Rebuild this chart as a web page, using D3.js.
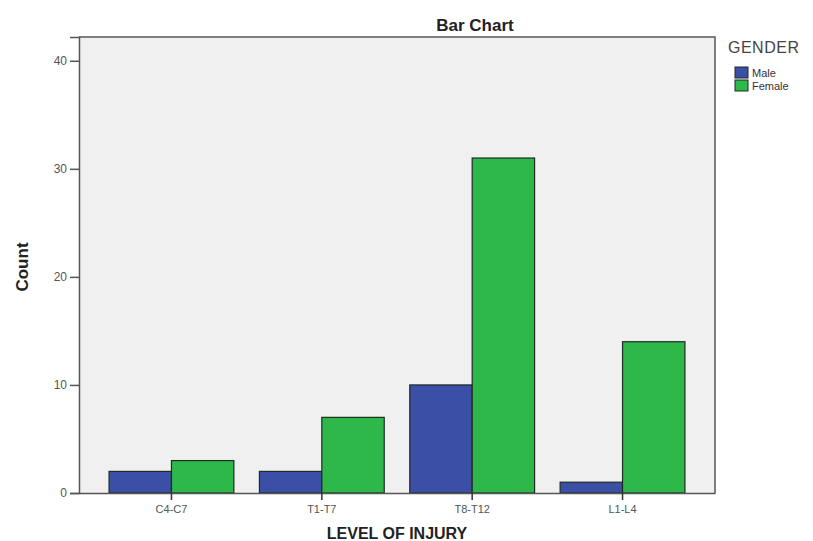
<!DOCTYPE html>
<html><head><meta charset="utf-8">
<script src="https://cdn.jsdelivr.net/npm/d3@7"></script>
<style>body{margin:0;background:#fff}svg{display:block}</style>
</head><body>
<script>
const categories = ["C4-C7","T1-T7","T8-T12","L1-L4"];
const seriesNames = ["Male","Female"];
const maleCounts = [2,2,10,1];
const femaleCounts = [3,7,31,14];
const yTicks = [0,10,20,30,40];
const colors = {Male:"#3b4fa6", Female:"#2fb84a"};

const W=813,H=541;
const m={left:79,right:98,top:37,bottom:48};
const svg=d3.select("body").append("svg").attr("width",W).attr("height",H);
const x0=m.left, x1=W-m.right, yb=H-m.bottom, yt=m.top;

const y=d3.scaleLinear().domain([0,42.2]).range([yb,yt]);
const x=d3.scaleBand().domain(categories).range([x0,x1]).paddingInner(0.17).paddingOuter(0.2);
const xs=d3.scaleBand().domain(seriesNames).range([0,x.bandwidth()]);

svg.append("rect").attr("x",x0).attr("y",yt).attr("width",x1-x0).attr("height",yb-yt).attr("fill","#f0f0f0");

const data=categories.map((c,i)=>({cat:c,vals:[{s:"Male",v:maleCounts[i]},{s:"Female",v:femaleCounts[i]}]}));
const g=svg.append("g");
data.forEach(d=>{
  d.vals.forEach(e=>{
    g.append("rect").attr("x",x(d.cat)+xs(e.s)).attr("y",y(e.v))
     .attr("width",xs.bandwidth()).attr("height",yb-y(e.v))
     .attr("fill",colors[e.s]).attr("stroke","#1e2a22").attr("stroke-width",1.2);
  });
});

// frame
svg.append("path").attr("d",`M${x0},${yt}H${x1}V${yb}`).attr("fill","none").attr("stroke","#555").attr("stroke-width",1.5);

const ya=svg.append("g").attr("transform",`translate(${x0},0)`)
  .call(d3.axisLeft(y).tickValues(yTicks).tickSize(9).tickPadding(3).tickFormat(d3.format("d")));
ya.select(".domain").attr("stroke","#555").attr("stroke-width",1.5);
ya.selectAll(".tick line").attr("stroke","#555").attr("stroke-width",1.5);
ya.selectAll("text").attr("font-family","Liberation Sans, Arial").attr("font-size",12).attr("fill","#555");

const xa=svg.append("g").attr("transform",`translate(0,${yb})`)
  .call(d3.axisBottom(x).tickSize(7).tickPadding(5).tickSizeOuter(0));
xa.select(".domain").attr("stroke","#555").attr("stroke-width",1.5);
xa.selectAll(".tick line").attr("stroke","#333").attr("stroke-width",1.5);
xa.selectAll("text").attr("font-family","Liberation Sans, Arial").attr("font-size",11).attr("fill","#555");

svg.append("text").attr("x",475).attr("y",31).attr("text-anchor","middle")
  .attr("font-family","Liberation Sans, Arial").attr("font-weight","bold").attr("font-size",17).attr("fill","#222").text("Bar Chart");
svg.append("text").attr("x",397).attr("y",539).attr("text-anchor","middle")
  .attr("font-family","Liberation Sans, Arial").attr("font-weight","bold").attr("font-size",16).attr("fill","#222").text("LEVEL OF INJURY");
svg.append("text").attr("transform",`translate(28,${(yt+yb)/2+2}) rotate(-90)`).attr("text-anchor","middle")
  .attr("font-family","Liberation Sans Narrow, Liberation Sans, Arial").attr("font-weight","bold").attr("font-size",17).attr("fill","#222").text("Count");

const lg=svg.append("g");
lg.append("text").attr("x",728).attr("y",53).attr("font-family","Liberation Sans, Arial").attr("font-size",16).attr("letter-spacing",0.5).attr("fill","#444").text("GENDER");
seriesNames.forEach((s,i)=>{
  lg.append("rect").attr("x",735).attr("y",67+i*13).attr("width",13).attr("height",11).attr("fill",colors[s]).attr("stroke","#1e2a22").attr("stroke-width",1);
  lg.append("text").attr("x",752).attr("y",77+i*13).attr("font-family","Liberation Sans, Arial").attr("font-size",11).attr("fill","#333").text(s);
});
</script>
</body></html>
